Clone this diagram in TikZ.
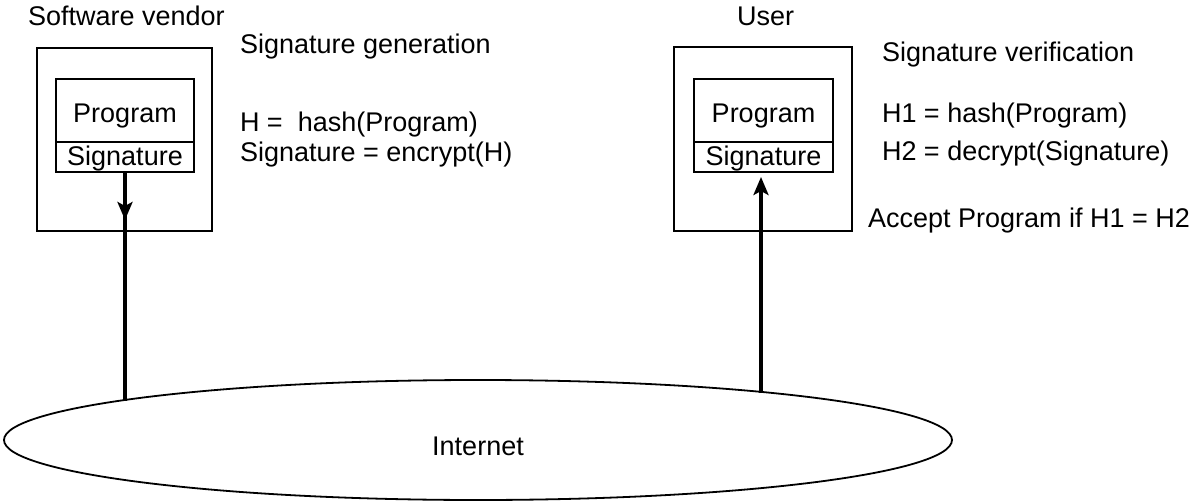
\documentclass[tikz,border=0pt]{standalone}
\usepackage{fontspec}
\setmainfont{Liberation Sans}
\usetikzlibrary{arrows.meta,shapes.geometric}
\begin{document}
\begin{tikzpicture}[x=1pt,y=-1pt,
  every node/.style={font=\fontsize{27}{32}\selectfont, inner sep=0pt, outer sep=0pt},
  outerbox/.style={draw, line width=2.6pt},
  partbox/.style={draw, line width=2.6pt},
  conn/.style={line width=3.4pt},
  tipstyle/.style={-{Stealth[length=18pt,width=15pt,inset=4pt]}},
  txt/.style={anchor=base west}
]
\useasboundingbox (0,0) rectangle (1197,503);

% outer boxes
\node[outerbox, minimum width=175pt, minimum height=183pt] (vbox) at (124.5,139.5) {};
\node[outerbox, minimum width=178pt, minimum height=184pt] (ubox) at (763,139) {};

% inner boxes (left)
\node[partbox, minimum width=138pt, minimum height=63pt, text height=23pt, text depth=0pt] (lp) at (125,110.5) {Program};
\node[partbox, minimum width=138pt, minimum height=30pt, text height=19pt, text depth=3pt] (ls) at (125,157) {Signature};
% inner boxes (right)
\node[partbox, minimum width=139pt, minimum height=63pt, text height=23pt, text depth=0pt] (rp) at (763.5,110.5) {Program};
\node[partbox, minimum width=139pt, minimum height=30pt, text height=19pt, text depth=3pt] (rs) at (763.5,157) {Signature};

% Internet
\node[ellipse, draw, line width=1.8pt, minimum width=948pt, minimum height=120pt, text height=30pt, text depth=0pt] (inet) at (478,440) {Internet};

% connector coordinates
\coordinate (eL) at (125,401);
\coordinate (tipL) at (125,220);
\coordinate (eR) at (761,393);
\coordinate (tipR) at (761,177);
\coordinate (sL) at (125,172);

% connectors
\draw[conn] (sL) -- (eL);
\draw[conn, tipstyle] (sL) -- (tipL);
\draw[conn, tipstyle] (eR) -- (tipR);

% labels
\node[txt] (t1) at (28,26) {Software vendor};
\node[txt] (t2) at (240,54) {Signature generation};
\node[txt] (t3) at (240,131) {H =\ \ hash(Program)};
\node[txt] (t4) at (240,161.5) {Signature = encrypt(H)};
\node[txt] (t5) at (737,26) {User};
\node[txt] (t6) at (882,61.5) {Signature verification};
\node[txt] (t7) at (882,122) {H1 = hash(Program)};
\node[txt] (t8) at (882,160) {H2 = decrypt(Signature)};
\node[txt] (t9) at (868,227) {Accept Program if H1 = H2};
\end{tikzpicture}
\end{document}
